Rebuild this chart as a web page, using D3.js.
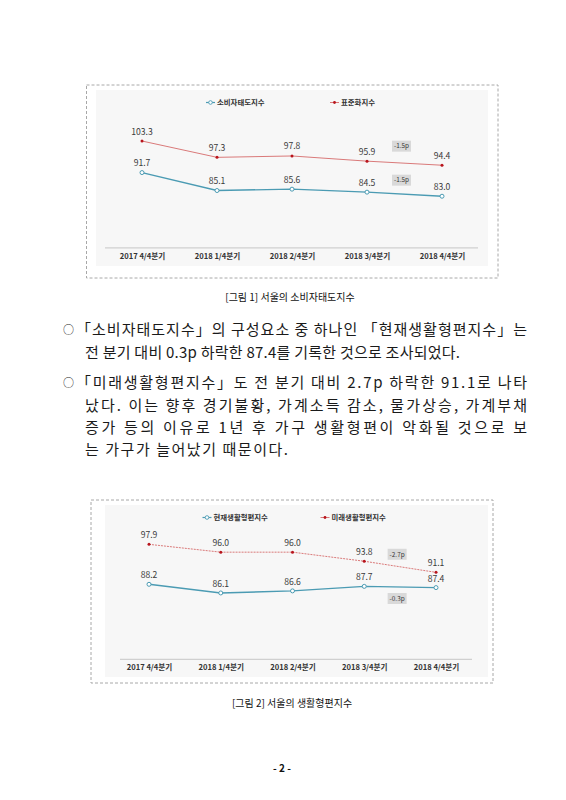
<!DOCTYPE html>
<html>
<head>
<meta charset="utf-8">
<script src="https://cdn.jsdelivr.net/npm/d3@7"></script>
<style>
  body { margin: 0; background: #fff; }
  svg { display: block; }
</style>
</head>
<body>
<div id="page"></div>
<script>
// categories and series
var quarters = ["2017 4/4분기", "2018 1/4분기", "2018 2/4분기", "2018 3/4분기", "2018 4/4분기"];

var consumerName = "소비자태도지수",
    standardName = "표준화지수",
    currentName = "현재생활형편지수",
    futureName = "미래생활형편지수";

var consumerIndex = [91.7, 85.1, 85.6, 84.5, 83.0];
var standardIndex = [103.3, 97.3, 97.8, 95.9, 94.4];
var currentLiving = [88.2, 86.1, 86.6, 87.7, 87.4];
var futureLiving  = [97.9, 96.0, 96.0, 93.8, 91.1];

var notes1 = ["-1.5p", "-1.5p"];
var notes2 = ["-2.7p", "-0.3p"];

var caption1 = "[그림 1] 서울의 소비자태도지수",
    caption2 = "[그림 2] 서울의 생활형편지수";

var para1 = [
  "「소비자태도지수」의 구성요소 중 하나인 「현재생활형편지수」는",
  "전 분기 대비 0.3p 하락한 87.4를 기록한 것으로 조사되었다."
];
var para2 = [
  "「미래생활형편지수」도 전 분기 대비 2.7p 하락한 91.1로 나타",
  "났다. 이는 향후 경기불황, 가계소득 감소, 물가상승, 가계부채",
  "증가 등의 이유로 1년 후 가구 생활형편이 악화될 것으로 보",
  "는 가구가 늘어났기 때문이다."
];

var blue = "#4b9bb3", red = "#d66b6b", redDot = "#b8141c";
var font = "'Noto Sans CJK KR', 'Noto Sans', sans-serif";
var fmt = d3.format(".1f");

var svg = d3.select("#page").append("svg")
    .attr("width", 566)
    .attr("height", 800)
    .style("font-family", font);

svg.append("rect").attr("width", 566).attr("height", 800).attr("fill", "#fff");

function drawChart(c) {
  var g = svg.append("g");

  // frame + light panel
  g.append("rect")
      .attr("x", c.frame[0]).attr("y", c.frame[1])
      .attr("width", c.frame[2]).attr("height", c.frame[3])
      .attr("fill", "none").attr("stroke", "#a8a8a8")
      .attr("stroke-dasharray", "3,2");
  g.append("rect")
      .attr("x", c.panel[0]).attr("y", c.panel[1])
      .attr("width", c.panel[2]).attr("height", c.panel[3])
      .attr("fill", "#f7f7f7");

  var x = d3.scalePoint().domain(quarters).range(c.xRange);
  var y = d3.scaleLinear().domain(c.yDomain).range(c.yRange);

  // baseline
  g.append("line")
      .attr("x1", c.axisX[0]).attr("x2", c.axisX[1])
      .attr("y1", y(c.yDomain[0])).attr("y2", y(c.yDomain[0]))
      .attr("stroke", "#d0d0d0").attr("stroke-width", 1.2);

  var xAxis = g.append("g")
      .attr("transform", "translate(0," + y(c.yDomain[0]) + ")")
      .call(d3.axisBottom(x).tickSize(0).tickPadding(c.tickPad));
  xAxis.select(".domain").remove();
  xAxis.selectAll("text")
      .attr("font-family", font)
      .attr("font-size", 7.6)
      .attr("font-weight", "bold")
      .attr("fill", "#333");

  var line = d3.line()
      .x(function(d, i) { return x(quarters[i]); })
      .y(function(d) { return y(d); });

  // upper (red) series
  g.append("path")
      .datum(c.top)
      .attr("d", line)
      .attr("fill", "none")
      .attr("stroke", red)
      .attr("stroke-width", 0.9)
      .attr("stroke-dasharray", c.redDash);
  g.selectAll(".rdot").data(c.top).enter().append("circle")
      .attr("cx", function(d, i) { return x(quarters[i]); })
      .attr("cy", function(d) { return y(d); })
      .attr("r", 1.5)
      .attr("fill", redDot);

  // lower (blue) series
  g.append("path")
      .datum(c.bottom)
      .attr("d", line)
      .attr("fill", "none")
      .attr("stroke", blue)
      .attr("stroke-width", 1.4);
  g.selectAll(".bdot").data(c.bottom).enter().append("circle")
      .attr("cx", function(d, i) { return x(quarters[i]); })
      .attr("cy", function(d) { return y(d); })
      .attr("r", 2)
      .attr("fill", "#fff")
      .attr("stroke", blue)
      .attr("stroke-width", 1);

  // value labels
  [c.top, c.bottom].forEach(function(s) {
    g.selectAll(null).data(s).enter().append("text")
        .attr("x", function(d, i) { return x(quarters[i]); })
        .attr("y", function(d) { return y(d) - c.labelGap; })
        .attr("text-anchor", "middle")
        .attr("font-size", 8.6)
        .attr("fill", "#3a3a3a")
        .text(function(d) { return fmt(d); });
  });

  // change notes
  var nx = (x(quarters[3]) + x(quarters[4])) / 2 - 3;
  c.notes.forEach(function(t, k) {
    var s = k === 0 ? c.top : c.bottom;
    var ny = (y(s[3]) + y(s[4])) / 2 + c.noteDy[k];
    g.append("rect")
        .attr("x", nx - 9.5).attr("y", ny - 5.5)
        .attr("width", 19).attr("height", 11)
        .attr("fill", "#d9d9d9");
    g.append("text")
        .attr("x", nx).attr("y", ny + 2.3)
        .attr("text-anchor", "middle")
        .attr("font-size", 6.4)
        .attr("fill", "#333")
        .text(t);
  });

  // legend
  var leg = [
    { name: c.bottomName, x: c.legX[0], color: blue, open: true },
    { name: c.topName, x: c.legX[1], color: red, open: false }
  ];
  leg.forEach(function(l) {
    g.append("line")
        .attr("x1", l.x).attr("x2", l.x + 9)
        .attr("y1", c.legY).attr("y2", c.legY)
        .attr("stroke", l.color).attr("stroke-width", l.open ? 1.2 : 0.9);
    g.append("circle")
        .attr("cx", l.x + 4.5).attr("cy", c.legY)
        .attr("r", l.open ? 1.8 : 1.4)
        .attr("fill", l.open ? "#fff" : redDot)
        .attr("stroke", l.open ? blue : "none")
        .attr("stroke-width", 0.9);
    g.append("text")
        .attr("x", l.x + 11).attr("y", c.legY + 2.7)
        .attr("font-size", 7.4)
        .attr("font-weight", "bold")
        .attr("fill", "#333")
        .text(l.name);
  });

  // caption
  svg.append("text")
      .attr("x", c.capX).attr("y", c.capY)
      .attr("text-anchor", "middle")
      .attr("font-size", 10)
      .attr("fill", "#111")
      .text(c.caption);
}

drawChart({
  frame: [86.5, 85, 411.5, 193],
  panel: [96, 90, 392, 176],
  xRange: [142, 442],
  axisX: [105, 478],
  yDomain: [64, 110],
  yRange: [247.9, 122.8],
  tickPad: 6,
  top: standardIndex, bottom: consumerIndex,
  topName: standardName, bottomName: consumerName,
  redDash: null,
  labelGap: 6.5,
  notes: notes1, noteDy: [-17, -14],
  legX: [206, 330], legY: 102.5,
  caption: caption1, capX: 290, capY: 300.5
});

drawChart({
  frame: [91, 500, 402, 183],
  panel: [105, 505, 383, 172],
  xRange: [149, 436],
  axisX: [120, 472],
  yDomain: [70, 104],
  yRange: [659.3, 519.2],
  tickPad: 5,
  top: futureLiving, bottom: currentLiving,
  topName: futureName, bottomName: currentName,
  redDash: "2,1",
  labelGap: 6,
  notes: notes2, noteDy: [-12.5, 11.5],
  legX: [202.5, 320.5], legY: 517.5,
  caption: caption2, capX: 292, capY: 707
});

// body text, one svg text per printed line
var body = svg.append("g")
    .attr("font-size", 15)
    .attr("fill", "#1a1a1a");

var lines = [
  { t: para1[0], x: 76, y: 334.5, w: 451, bullet: true },
  { t: para1[1], x: 85, y: 357.5, w: 375 },
  { t: para2[0], x: 76, y: 387.5, w: 451, bullet: true },
  { t: para2[1], x: 85, y: 410.5, w: 442 },
  { t: para2[2], x: 85, y: 432.5, w: 442 },
  { t: para2[3], x: 85, y: 454.5, w: 203 }
];

lines.forEach(function(l) {
  if (l.bullet) {
    body.append("text")
        .attr("x", 63).attr("y", l.y - 1)
        .attr("font-size", 11)
        .text("○");
  }
  body.append("text")
      .attr("x", l.x).attr("y", l.y)
      .attr("textLength", l.w)
      .attr("lengthAdjust", "spacing")
      .text(l.t);
});

// page number
svg.append("text")
    .attr("x", 282).attr("y", 772)
    .attr("text-anchor", "middle")
    .attr("font-size", 10)
    .attr("font-weight", "bold")
    .attr("fill", "#111")
    .text("- 2 -");
</script>
</body>
</html>
